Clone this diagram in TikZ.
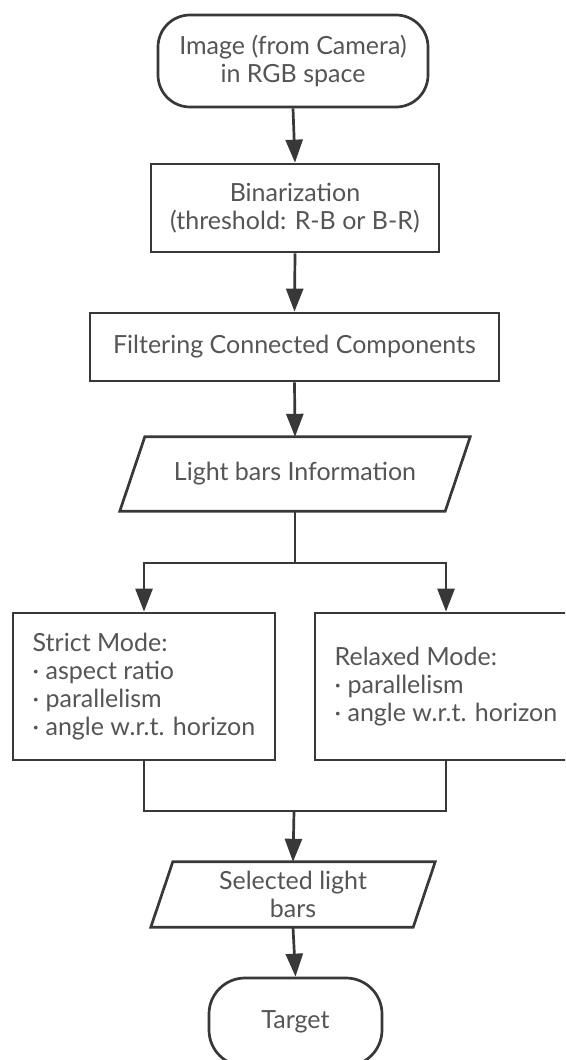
\documentclass[tikz,border=0pt]{standalone}
\usepackage{fontspec}
\setmainfont{Lato}
\usetikzlibrary{arrows.meta,calc}
\definecolor{linec}{HTML}{383838}
\definecolor{textc}{HTML}{555555}
\tikzset{
  base/.style={inner sep=0pt, text=textc, font=\fontsize{25}{28}\selectfont, align=center},
  boxnode/.style={base, draw=linec, line width=2.7pt, rectangle},
  termnode/.style={base, draw=linec, line width=2.7pt, rectangle, rounded corners=32pt},
  ionode/.style={base, rectangle},
  wire/.style={draw=linec, line width=2.7pt},
  arr/.style={wire, -{Triangle[length=23pt,width=17pt]}},
  outline/.style={draw=linec, line width=2.7pt, line join=miter},
}
\begin{document}
\begin{tikzpicture}[x=1pt,y=-1pt]
\clip (0,0) rectangle (565,1060);
\fill[white] (0,0) rectangle (565,1060);

\node[termnode, minimum width=270pt, minimum height=92pt] (start) at (293,61) {Image (from Camera)\\in RGB space};
\node[boxnode, minimum width=288pt, minimum height=88pt] (bin) at (295,208) {Binarization\\(threshold: R-B or B-R)};
\node[boxnode, minimum width=409pt, minimum height=68pt] (filt) at (294.5,347) {Filtering Connected Components};
\node[ionode, minimum width=350pt, minimum height=74pt] (lbi) at (295,474) {Light bars Information};
\draw[outline] ([xshift=25pt]lbi.north west) -- (lbi.north east) -- ([xshift=-25pt]lbi.south east) -- (lbi.south west) -- cycle;

\node[boxnode, minimum width=262pt, minimum height=147pt, align=left] (strict) at (144,686.5) {Strict Mode:\\· aspect ratio\\· parallelism\\· angle w.r.t. horizon};
\node[boxnode, minimum width=262pt, minimum height=147pt, align=left] (relaxed) at (446,686.5) {Relaxed Mode:\\· parallelism\\· angle w.r.t. horizon};

\node[ionode, minimum width=284pt, minimum height=65pt] (sel) at (293,894.5) {Selected light\\bars};
\draw[outline] ([xshift=22pt]sel.north west) -- (sel.north east) -- ([xshift=-22pt]sel.south east) -- (sel.south west) -- cycle;

\node[termnode, minimum width=173pt, minimum height=88pt, rounded corners=36pt] (target) at (295.5,1022) {Target};

\draw[arr] (start.south) -- (bin.north);
\draw[arr] (bin.south) -- (filt.north);
\draw[arr] (filt.south) -- (lbi.north);
\coordinate (split) at (295,563);
\draw[wire] (lbi.south) -- (split);
\draw[arr] (split) -| (strict.north);
\draw[arr] (split) -| (relaxed.north);
\coordinate (merge) at (294,811);
\draw[wire] (strict.south) |- (merge) -| (relaxed.south);
\draw[arr] (merge) -- (sel.north);
\draw[arr] (sel.south) -- (target.north);
\end{tikzpicture}
\end{document}
